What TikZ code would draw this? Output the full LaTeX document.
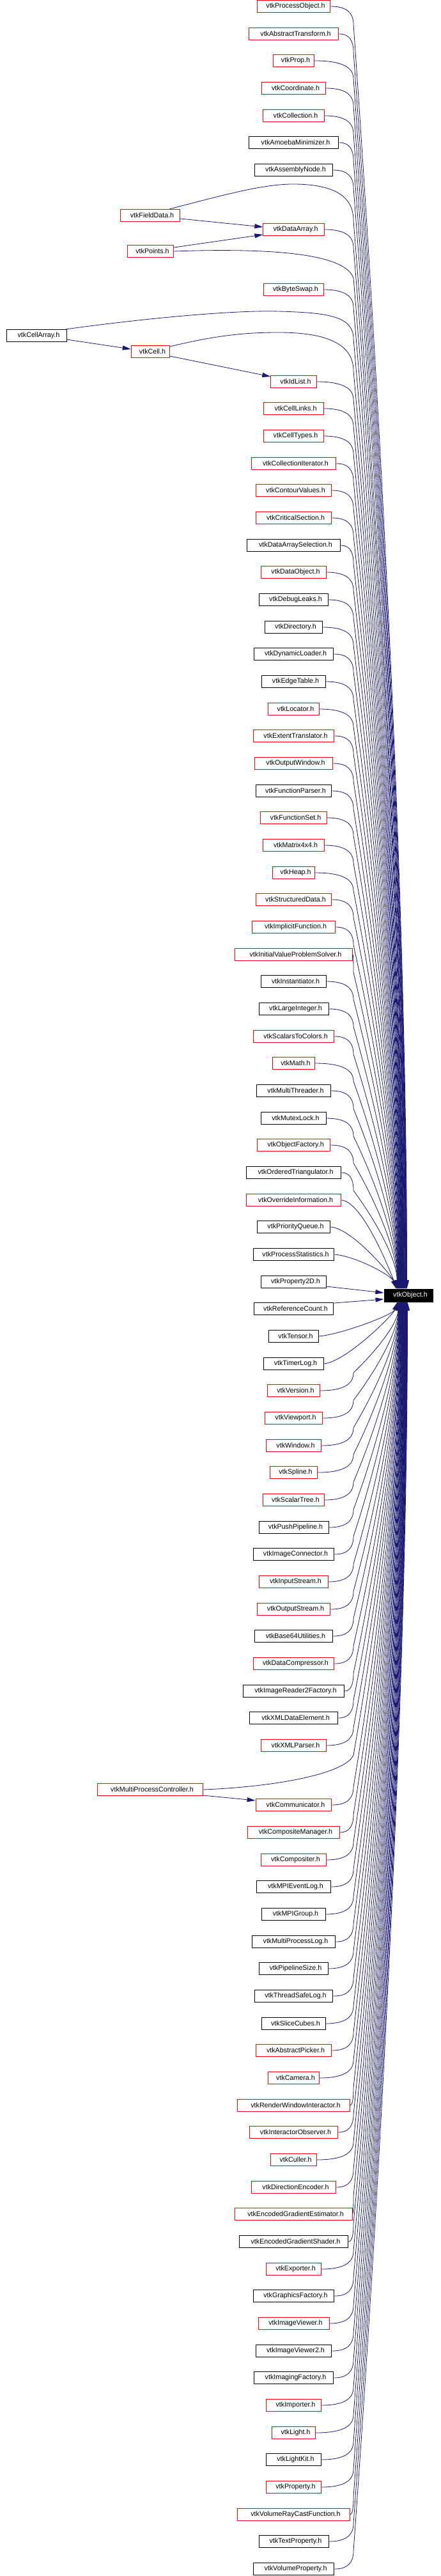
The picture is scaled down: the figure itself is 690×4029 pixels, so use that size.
\documentclass[tikz,border=0pt]{standalone}
\usepackage{fontspec}
\setmainfont{Liberation Sans}
\usetikzlibrary{arrows.meta}
\definecolor{edgeblue}{HTML}{191970}
\begin{document}
\begin{tikzpicture}[x=1pt,y=-1pt,
  box/.style={draw, rectangle, line width=1pt, minimum height=19pt, inner sep=0pt, font=\fontsize{10.7pt}{13pt}\selectfont},
  edge/.style={draw=edgeblue, line width=0.8pt, -{Triangle[length=13pt,width=7pt]}}]
\useasboundingbox (0,0) rectangle (690,4029);
\fill[white] (0,0) rectangle (690,4029);
\node[box, draw=black, fill=black, text=white, minimum width=76pt, minimum height=20pt] (nobj) at (639,2026) {\hspace*{6pt}vtkObject.h};
\foreach \nm/\lab/\xc/\w/\ys/\bc/\e in {
po/ProcessObject/459.5/116/10/red/1,
at/AbstractTransform/459.5/142/53/red/1,
prop/Prop/459.5/65/95/red/1,
coord/Coordinate/459.5/101/138/red/1,
coll/Collection/459.5/96/181/red/1,
amoeba/AmoebaMinimizer/459.5/142/223/black/1,
asm/AssemblyNode/459.5/124/266/black/1,
fd/FieldData/235/94/337/red/0,
da/DataArray/459.5/96/359/red/1,
pts/Points/235.5/73/393/red/0,
bs/ByteSwap/459.5/94/453/red/1,
ca/CellArray/57.5/94/525/black/0,
cell/Cell/235.5/61/550/red/0,
idl/IdList/459.5/72/597/red/1,
cl/CellLinks/459.5/94/639/red/1,
ct/CellTypes/459.5/94/682/red/1,
ci/CollectionIterator/459.5/134/725/red/1,
cv/ContourValues/459.5/120/767/red/1,
cs/CriticalSection/459.5/120/810/red/1,
das/DataArraySelection/459.5/148/853/black/1,
dob/DataObject/459.5/102/895/red/1,
dl/DebugLeaks/459.5/108/938/black/1,
dir/Directory/459.5/91/981/black/1,
dyn/DynamicLoader/459.5/126/1023/black/1,
et/EdgeTable/459.5/100/1066/black/1,
loc/Locator/459.5/80/1109/red/1,
ext/ExtentTranslator/459.5/128/1151/red/1,
ow/OutputWindow/459.5/124/1194/red/1,
fp/FunctionParser/459.5/120/1237/black/1,
fs/FunctionSet/459.5/104/1279/red/1,
mat/Matrix4x4/459.5/96/1322/red/1,
heap/Heap/459.5/67/1365/red/1,
sd/StructuredData/459.5/120/1407/red/1,
impf/ImplicitFunction/459.5/132/1450/red/1,
ivps/InitialValueProblemSolver/459.5/186/1493/red/1,
inst/Instantiator/459.5/102/1535/black/1,
li/LargeInteger/459.5/110/1578/black/1,
stc/ScalarsToColors/459.5/128/1621/red/1,
math/Math/459.5/67/1663/red/1,
mt/MultiThreader/459.5/118/1706/black/1,
mut/MutexLock/459.5/102/1749/black/1,
of/ObjectFactory/459.5/116/1791/red/1,
ot/OrderedTriangulator/459.5/150/1834/black/1,
oi/OverrideInformation/459.5/150/1877/red/1,
pq/PriorityQueue/459.5/116/1919/black/1,
ps/ProcessStatistics/459.5/128/1962/black/1,
p2d/Property2D/459.5/102/2005/black/0,
rc/ReferenceCount/459.5/126/2047/black/0,
ten/Tensor/459.5/78/2090/black/1,
tl/TimerLog/459.5/94/2133/black/1,
ver/Version/459.5/83/2175/red/1,
vp/Viewport/459.5/91/2218/red/1,
win/Window/459.5/86/2261/red/1,
spl/Spline/459.5/75/2303/red/1,
st/ScalarTree/459.5/96/2346/red/1,
pp/PushPipeline/459.5/110/2389/black/1,
ic/ImageConnector/459.5/128/2431/black/1,
is/InputStream/459.5/108/2474/red/1,
os/OutputStream/459.5/116/2517/red/1,
b64/Base64Utilities/459.5/124/2559/black/1,
dc/DataCompressor/459.5/128/2602/red/1,
irf/ImageReader2Factory/459.5/159/2645/black/1,
xde/XMLDataElement/459.5/140/2687/black/1,
xp/XMLParser/459.5/102/2730/red/1,
mpc/MultiProcessController/235/166/2799/red/0,
comm/Communicator/459.5/120/2823/red/1,
cm/CompositeManager/459.5/145/2866/red/1,
comp/Compositer/459.5/102/2909/red/1,
mpiel/MPIEventLog/459.5/118/2951/black/1,
mpig/MPIGroup/459.5/100/2994/black/1,
mpl/MultiProcessLog/459.5/132/3037/black/1,
pls/PipelineSize/459.5/108/3079/black/1,
tsl/ThreadSafeLog/459.5/124/3122/black/1,
sc/SliceCubes/459.5/100/3165/black/1,
ap/AbstractPicker/459.5/120/3207/red/1,
cam/Camera/459.5/80/3250/red/1,
rwi/RenderWindowInteractor/459.5/177/3293/red/1,
io/InteractorObserver/459.5/140/3335/red/1,
cul/Culler/459.5/72/3378/red/1,
de/DirectionEncoder/459.5/134/3421/red/1,
ege/EncodedGradientEstimator/459.5/185/3463/red/1,
egs/EncodedGradientShader/459.5/172/3506/black/1,
exp/Exporter/459.5/86/3549/red/1,
gf/GraphicsFactory/459.5/128/3591/black/1,
iv/ImageViewer/459.5/112/3634/red/1,
ivt/ImageViewer2/459.5/120/3677/black/1,
imf/ImagingFactory/459.5/126/3719/black/1,
imp/Importer/459.5/86/3762/red/1,
light/Light/459.5/69/3805/red/1,
lk/LightKit/459.5/86/3847/black/1,
prp/Property/459.5/86/3890/red/1,
vrcf/VolumeRayCastFunction/459.5/177/3933/red/1,
tp/TextProperty/459.5/110/3975/black/1,
vpr/VolumeProperty/459.5/128/4018/black/1}{
  \pgfmathsetmacro\bw{\w*0.991}
  \node[box, draw=\bc, minimum width=\bw pt] (n\nm) at (\xc,\ys) {\hspace*{6pt}vtk\lab.h};
  \ifnum\e=1
    \pgfmathsetmacro\xe{\xc+\bw/2}
    \pgfmathsetmacro\cf{\xe+0.7*(553-\xe)}
    \ifnum\ys<2016
      \pgfmathsetmacro\dx{19+(2016-\ys)/2006*17}
      \pgfmathsetmacro\xt{601+\dx}
      \ifnum\ys>1850
        \draw[edge] (n\nm.east) .. controls ({\xe+35},\ys+3) and ({\xt-8},1995) .. ([xshift=\dx pt]nobj.north west);
      \else
        \pgfmathsetmacro\yb{\ys+28}
        \pgfmathsetmacro\cA{\yb+0.3*(2016-\yb)}
        \pgfmathsetmacro\cB{2016-0.3*(2016-\yb)}
        \pgfmathsetmacro\cx{553+0.5*(\xt-553)}
        \draw[edge] (n\nm.east) .. controls (\cf,\ys) and (553,\ys+10) .. (553,\yb) .. controls (\cx,\cA) and (\xt,\cB) .. ([xshift=\dx pt]nobj.north west);
      \fi
    \else
      \pgfmathsetmacro\dx{21+(\ys-2036)/1982*16}
      \pgfmathsetmacro\xt{601+\dx}
      \ifnum\ys<2150
        \draw[edge] (n\nm.east) .. controls ({\xe+35},\ys-3) and ({\xt-8},2057) .. ([xshift=\dx pt]nobj.south west);
      \else
        \pgfmathsetmacro\yb{\ys-28}
        \pgfmathsetmacro\cA{\yb-0.3*(\yb-2036)}
        \pgfmathsetmacro\cB{2036+0.3*(\yb-2036)}
        \pgfmathsetmacro\cx{553+0.5*(\xt-553)}
        \draw[edge] (n\nm.east) .. controls (\cf,\ys) and (553,\ys-10) .. (553,\yb) .. controls (\cx,\cA) and (\xt,\cB) .. ([xshift=\dx pt]nobj.south west);
      \fi
    \fi
  \fi
}
% special connectors
\draw[edge] ([xshift=-17pt]nfd.north east) .. controls (357,303) and (416,287) .. (463,288) .. controls (520,289) and (553,305) .. (553,345) .. controls (593.6,846) and (634.2,1515) .. ([xshift=33.2pt]nobj.north west);
\draw[edge] ([yshift=-5pt]nfd.east) -- ([yshift=4pt]nda.west);
\draw[edge] ([yshift=6pt]npts.east) -- ([yshift=-8pt]nda.west);
\draw[edge] (npts.east) .. controls (416,388) and (540,395) .. (553,435) .. controls (593.4,909) and (633.8,1542) .. ([xshift=32.8pt]nobj.north west);
\draw[edge] ([xshift=-2pt]nca.north east) .. controls (248,495) and (377,485) .. (436,487) .. controls (515,489) and (553,495) .. (553,530) .. controls (592.8,976) and (632.6,1570) .. ([xshift=31.6pt]nobj.north west);
\draw[edge] ([yshift=-6pt]nca.east) -- ([yshift=4pt]ncell.west);
\draw[edge] ([yshift=8pt]ncell.east) .. controls (347,522) and (396,520) .. (436,520) .. controls (515,520) and (553,540) .. (553,580) .. controls (592.7,1011) and (632.4,1585) .. ([xshift=31.4pt]nobj.north west);
\draw[edge] ([yshift=-7pt]ncell.east) -- ([yshift=8pt]nidl.west);
\draw[edge] (nmpc.east) .. controls (426,2795) and (540,2775) .. (553,2745) .. controls (590.6,2532) and (628.2,2249) .. ([xshift=27.2pt]nobj.south west);
\draw[edge] ([yshift=-9pt]nmpc.east) -- ([yshift=7pt]ncomm.west);
\draw[edge] ([yshift=-7pt]np2d.east) -- ([yshift=4pt]nobj.west);
\draw[edge] ([yshift=9pt]nrc.east) -- ([yshift=-6pt]nobj.west);
\end{tikzpicture}
\end{document}
